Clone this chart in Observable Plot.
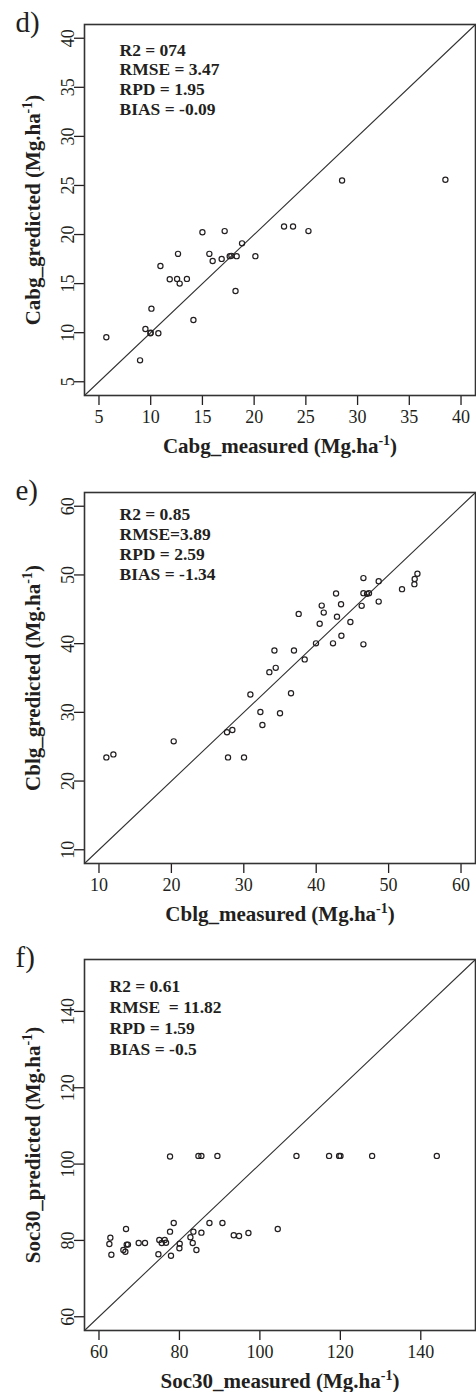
<!DOCTYPE html>
<html><head><meta charset="utf-8">
<script src="https://cdn.jsdelivr.net/npm/d3@7"></script>
<script src="https://cdn.jsdelivr.net/npm/@observablehq/plot@0.6"></script>
<style>
body{margin:0;background:#fff}
#chart svg{display:block}
</style>
</head><body><div id="chart"></div>
<script>
// Panel d
const cabgMeasured = [5.71, 8.97, 9.49, 9.97, 10.0, 10.74, 10.07, 10.94, 11.84, 12.55, 12.8, 13.5, 12.64, 14.13, 15.0, 15.67, 15.99, 16.86, 17.15, 17.64, 17.8, 18.31, 18.2, 18.83, 20.12, 22.89, 23.76, 25.25, 28.5, 38.49];
const cabgPredicted = [9.53, 7.18, 10.38, 9.94, 10.0, 9.94, 12.45, 16.8, 15.45, 15.48, 15.0, 15.48, 18.03, 11.3, 20.24, 18.03, 17.3, 17.52, 20.35, 17.8, 17.83, 17.8, 14.25, 19.1, 17.8, 20.82, 20.82, 20.35, 25.5, 25.58];
const cabgLimits = [5, 40];
const cabgTicks = [5, 10, 15, 20, 25, 30, 35, 40];
const cabgStats = ["R2 = 074", "RMSE = 3.47", "RPD = 1.95", "BIAS = -0.09"];

// Panel e
const cblgMeasured = [11.02, 11.99, 20.32, 27.82, 30.03, 27.68, 28.42, 32.57, 32.29, 35.0, 30.91, 36.52, 33.53, 34.41, 34.23, 36.93, 37.58, 38.41, 39.97, 42.32, 43.48, 46.52, 40.48, 41.04, 40.76, 42.74, 43.43, 42.87, 44.72, 46.28, 46.52, 46.52, 47.02, 47.29, 48.63, 48.63, 51.85, 53.56, 53.6, 53.98];
const cblgPredicted = [23.44, 23.88, 25.78, 23.44, 23.44, 27.1, 27.43, 28.16, 30.06, 29.87, 32.6, 32.79, 35.85, 36.48, 39.0, 39.0, 44.33, 37.71, 40.04, 40.04, 41.16, 39.9, 42.9, 44.52, 45.54, 47.29, 45.74, 43.93, 43.16, 45.5, 49.54, 47.35, 47.25, 47.35, 46.12, 49.1, 47.93, 48.66, 49.4, 50.17];
const cblgLimits = [10, 60];
const cblgTicks = [10, 20, 30, 40, 50, 60];
const cblgStats = ["R2 = 0.85", "RMSE=3.89", "RPD = 2.59", "BIAS = -1.34"];

// Panel f
const socMeasured = [77.66, 84.72, 85.46, 89.44, 109.09, 117.2, 119.69, 120.03, 127.9, 143.98, 62.83, 62.58, 63.08, 66.72, 66.06, 66.56, 66.89, 67.2, 69.87, 71.44, 75.0, 74.77, 75.6, 76.34, 76.67, 77.66, 78.58, 77.9, 79.99, 80.07, 82.73, 83.47, 83.3, 84.22, 85.46, 87.46, 90.69, 93.5, 94.82, 97.15, 104.44];
const socPredicted = [102.0, 102.15, 102.15, 102.15, 102.15, 102.15, 102.15, 102.15, 102.15, 102.15, 80.72, 79.07, 76.26, 83.0, 77.5, 77.05, 78.9, 78.9, 79.33, 79.33, 80.1, 76.37, 79.33, 80.1, 79.4, 82.3, 84.58, 76.0, 77.93, 79.15, 80.82, 82.3, 79.33, 77.5, 82.03, 84.58, 84.58, 81.35, 81.17, 81.95, 83.0];
const socLimits = [60, 150];
const socTicks = [60, 80, 100, 120, 140];
const socStats = ["R2 = 0.61", "RMSE\u00a0 = 11.82", "RPD = 1.59", "BIAS = -0.5"];

const panels = [
  {letter: "d)", measured: cabgMeasured, predicted: cabgPredicted, lim: cabgLimits, ticks: cabgTicks, stats: cabgStats,
   xLabel: "Cabg_measured (Mg.ha-1)", yLabel: "Cabg_gredicted (Mg.ha-1)", height: 468, mb: 73, sdx: 35, sdy: 17.3, slh: 1.12},
  {letter: "e)", measured: cblgMeasured, predicted: cblgPredicted, lim: cblgLimits, ticks: cblgTicks, stats: cblgStats,
   xLabel: "Cblg_measured (Mg.ha-1)", yLabel: "Cblg_gredicted (Mg.ha-1)", height: 467, mb: 72, sdx: 35, sdy: 13.3, slh: 1.14},
  {letter: "f)", measured: socMeasured, predicted: socPredicted, lim: socLimits, ticks: socTicks, stats: socStats,
   xLabel: "Soc30_measured (Mg.ha-1)", yLabel: "Soc30_predicted (Mg.ha-1)", height: 457, mb: 62, sdx: 25, sdy: 17.6, slh: 1.2}
];

const INK = "#231f20";
const NS = "http://www.w3.org/2000/svg";

function superscript(svg) {
  for (const t of svg.querySelectorAll("text")) {
    const s = t.textContent;
    const k = s.indexOf("-1)");
    if (k > 0 && s.includes("Mg.ha")) {
      t.textContent = "";
      const a = document.createElementNS(NS, "tspan"); a.textContent = s.slice(0, k);
      const b = document.createElementNS(NS, "tspan"); b.textContent = "-1";
      b.setAttribute("font-size", "14"); b.setAttribute("dy", "-8");
      const c = document.createElementNS(NS, "tspan"); c.textContent = ")"; c.setAttribute("dy", "8");
      t.append(a, b, c);
    }
  }
}

function panel(p) {
  const pad = 0.04 * (p.lim[1] - p.lim[0]);
  const dom = [p.lim[0] - pad, p.lim[1] + pad];
  const pts = p.measured.map((m, i) => ({m, v: p.predicted[i]}));
  const diag = dom.map(v => ({v}));
  const svg = Plot.plot({
    width: 476, height: p.height,
    marginLeft: 84, marginRight: 1, marginTop: 24, marginBottom: p.mb,
    style: {fontFamily: "'Liberation Serif', 'Times New Roman', serif", color: INK, background: "#fff", overflow: "visible"},
    x: {domain: dom, label: null},
    y: {domain: dom, label: null},
    marks: [
      Plot.axisX({ticks: p.ticks, tickSize: 10, tickPadding: 5, fontSize: 18, label: null, strokeWidth: 1.3}),
      Plot.axisY({ticks: p.ticks, tickSize: 10, tickPadding: 1, tickRotate: -90, fontSize: 18, label: null, strokeWidth: 1.3}),
      Plot.line(diag, {x: "v", y: "v", stroke: "#333", strokeWidth: 1.1}),
      Plot.dot(pts, {x: "m", y: "v", r: 2.6, stroke: INK, strokeWidth: 1.2, fill: "none"}),
      Plot.frame({stroke: "#333", strokeWidth: 1.6}),
      Plot.text([p.stats.join("\n")], {text: d => d, frameAnchor: "top-left", dx: p.sdx, dy: p.sdy, textAnchor: "start", lineAnchor: "top", fontSize: 17.5, fontWeight: "bold", lineHeight: p.slh, fill: INK}),
      Plot.text([p.letter], {text: d => d, frameAnchor: "top-left", dx: -69, dy: -2, textAnchor: "start", lineAnchor: "middle", fontSize: 29, fill: INK}),
      Plot.text([p.xLabel], {text: d => d, frameAnchor: "bottom", dy: 51, fontSize: 21, fontWeight: "bold", textAnchor: "middle", lineAnchor: "middle", fill: INK}),
      Plot.text([p.yLabel], {text: d => d, frameAnchor: "left", dx: -51, rotate: -90, fontSize: 21, fontWeight: "bold", textAnchor: "middle", lineAnchor: "middle", fill: INK})
    ]
  });
  superscript(svg);
  return svg;
}

const root = document.getElementById("chart");
for (const p of panels) root.append(panel(p));
</script>
</body></html>
